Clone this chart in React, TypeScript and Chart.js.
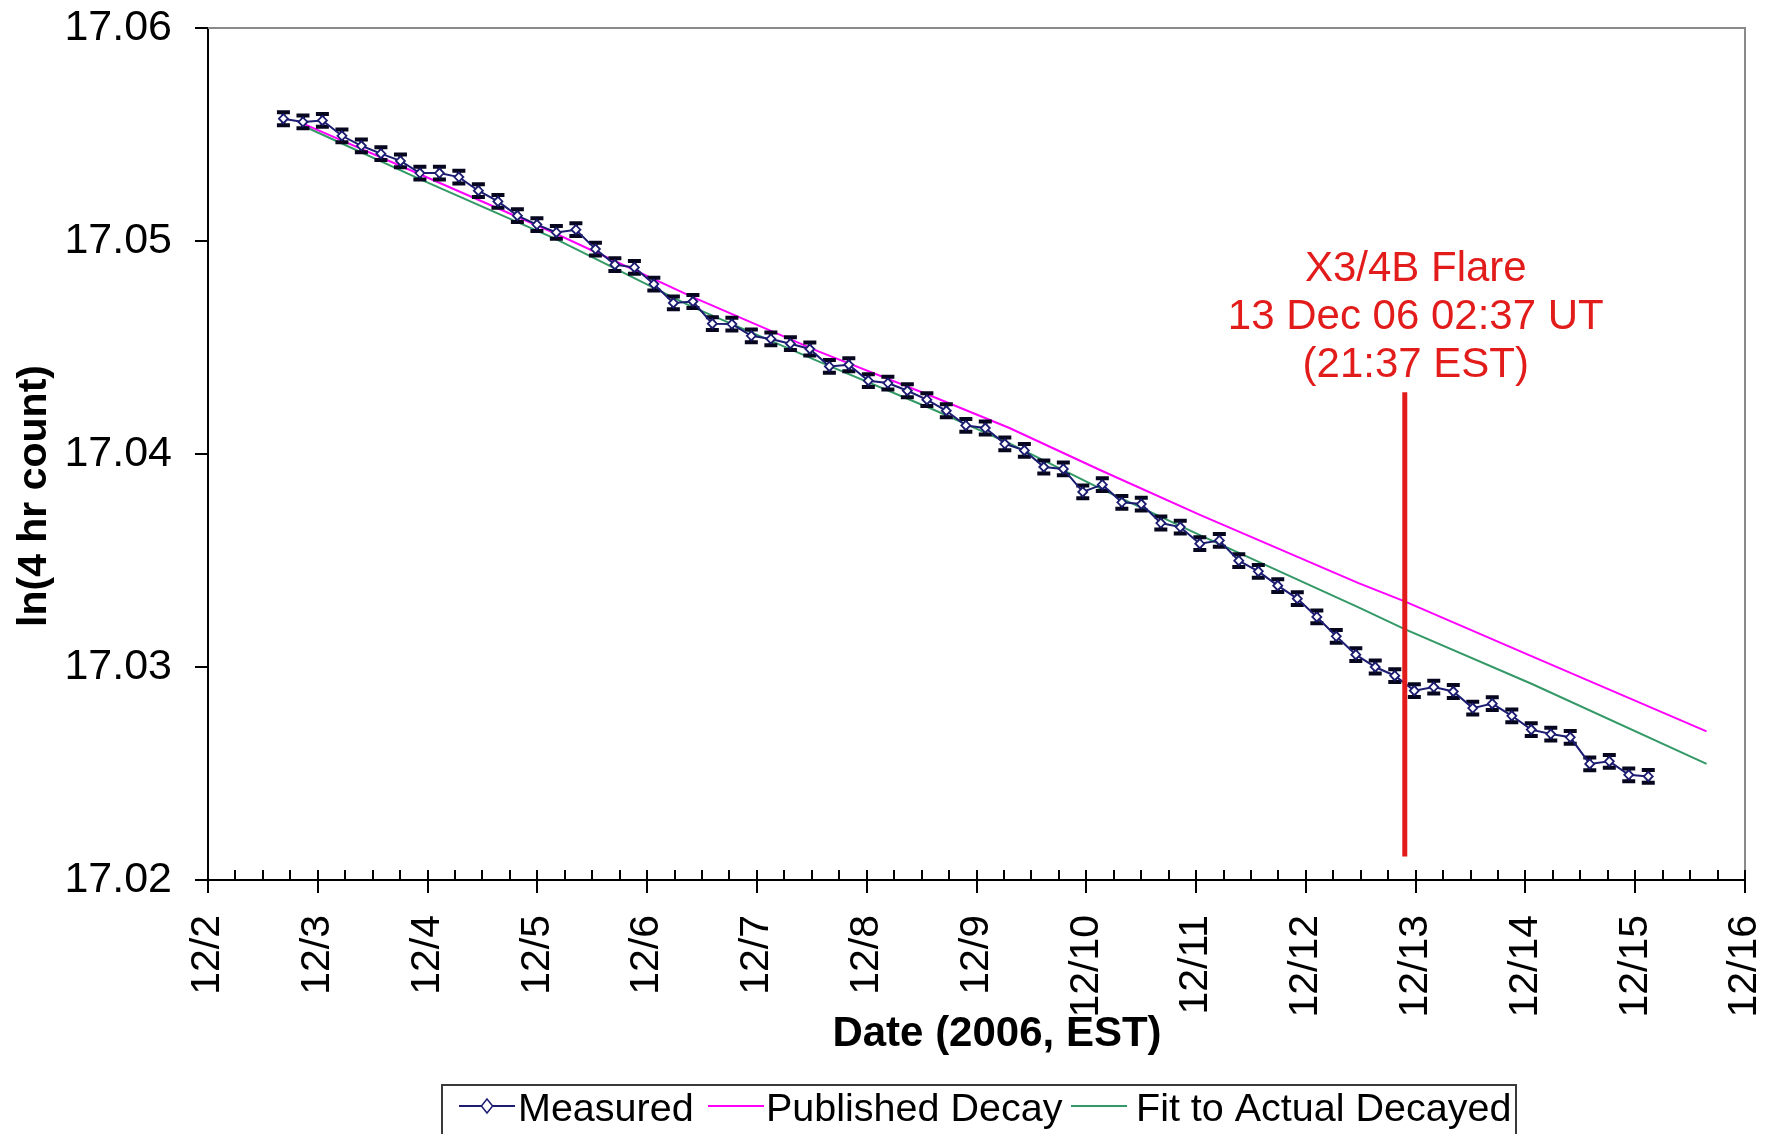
import React, { useEffect, useRef } from 'react';
import { Chart, registerables } from 'chart.js';

Chart.register(...registerables);

const FONT = '"Liberation Sans", Arial, Helvetica, sans-serif';

// x values are day-of-month in December 2006 (EST)
const measuredDays = [
  2.687, 2.865, 3.042, 3.220, 3.397, 3.575, 3.753, 3.930, 4.108, 4.285,
  4.463, 4.641, 4.818, 4.996, 5.173, 5.351, 5.529, 5.706, 5.884, 6.061,
  6.239, 6.417, 6.594, 6.772, 6.949, 7.127, 7.305, 7.482, 7.660, 7.837,
  8.015, 8.193, 8.370, 8.548, 8.725, 8.903, 9.080, 9.258, 9.436, 9.613,
  9.791, 9.968, 10.146, 10.324, 10.501, 10.679, 10.856, 11.034, 11.212, 11.389,
  11.567, 11.744, 11.922, 12.100, 12.277, 12.455, 12.632, 12.810, 12.988, 13.165,
  13.343, 13.520, 13.698, 13.876, 14.053, 14.231, 14.408, 14.586, 14.764, 14.941,
  15.119,
];
const measuredValues = [
  17.05574, 17.05559, 17.05566, 17.05494, 17.05447, 17.05410, 17.05376, 17.05319, 17.05319, 17.05300,
  17.05236, 17.05186, 17.05119, 17.05077, 17.05040, 17.05053, 17.04962, 17.04889, 17.04876, 17.04798,
  17.04709, 17.04716, 17.04612, 17.04610, 17.04555, 17.04540, 17.04518, 17.04493, 17.04411, 17.04419,
  17.04344, 17.04333, 17.04297, 17.04255, 17.04203, 17.04134, 17.04122, 17.04048, 17.04017, 17.03939,
  17.03930, 17.03822, 17.03856, 17.03773, 17.03765, 17.03676, 17.03657, 17.03579, 17.03594, 17.03499,
  17.03449, 17.03382, 17.03321, 17.03235, 17.03144, 17.03058, 17.03000, 17.02959, 17.02889, 17.02906,
  17.02885, 17.02807, 17.02828, 17.02771, 17.02706, 17.02685, 17.02670, 17.02545, 17.02557, 17.02494,
  17.02486,
];
const MEASURED_ERROR = 0.0003;

const publishedDays = [2.87, 3.94, 5.17, 6.40, 7.56, 8.60, 9.30, 10.12, 11.03, 12.48, 12.90, 14.06, 15.65];
const publishedValues = [17.0555, 17.05311, 17.05034, 17.0474, 17.04482, 17.0427, 17.04122, 17.03926, 17.03715, 17.03394, 17.03308, 17.0305, 17.02698];

const fitDays = [2.87, 3.94, 5.17, 6.40, 7.56, 8.60, 9.30, 10.12, 11.03, 12.48, 12.90, 14.06, 15.65];
const fitValues = [17.0554, 17.05288, 17.05009, 17.04693, 17.04435, 17.0421, 17.0405, 17.0384, 17.0362, 17.0328, 17.03178, 17.0292, 17.02545];

// Flare: 12 Dec 21:37 EST
const flareDay = 12.901;
const flareLineTop = 17.0429;
const flareLineBottom = 17.0211;
const flareText = ['X3/4B Flare', '13 Dec 06 02:37 UT', '(21:37 EST)'];

const xTickValues = [2, 3, 4, 5, 6, 7, 8, 9, 10, 11, 12, 13, 14, 15, 16];
const xTickLabels = ['12/2', '12/3', '12/4', '12/5', '12/6', '12/7', '12/8', '12/9', '12/10', '12/11', '12/12', '12/13', '12/14', '12/15', '12/16'];
const X_MINOR_PER_DAY = 4;
const yTickValues = [17.02, 17.03, 17.04, 17.05, 17.06];
const yTickLabels = ['17.02', '17.03', '17.04', '17.05', '17.06'];

const xTitle = 'Date (2006, EST)';
const yTitle = 'ln(4 hr count)';
const seriesNames = ['Measured', 'Published Decay', 'Fit to Actual Decayed'];

const NAVY = '#1c1c72';
const MAGENTA = '#ff00ff';
const GREEN = '#339966';
const RED = '#e21b1b';

export default function App() {
  const ref = useRef<HTMLCanvasElement>(null);

  useEffect(() => {
    const canvas = ref.current;
    if (!canvas) return;
    const measured = measuredDays.map((d, i) => ({ x: d, y: measuredValues[i] }));
    const published = publishedDays.map((d, i) => ({ x: d, y: publishedValues[i] }));
    const fit = fitDays.map((d, i) => ({ x: d, y: fitValues[i] }));
    const flare = [
      { x: flareDay, y: flareLineTop },
      { x: flareDay, y: flareLineBottom },
    ];

    const drawDiamond = (ctx: CanvasRenderingContext2D, x: number, y: number, r: number) => {
      ctx.beginPath();
      ctx.moveTo(x, y - r);
      ctx.lineTo(x + r * 0.8, y);
      ctx.lineTo(x, y + r);
      ctx.lineTo(x - r * 0.8, y);
      ctx.closePath();
      ctx.fillStyle = '#ffffff';
      ctx.fill();
      ctx.strokeStyle = NAVY;
      ctx.lineWidth = 1.5;
      ctx.stroke();
    };

    const zeroPad = (s: any) => {
      s.paddingLeft = 0;
      s.paddingRight = 0;
      s.paddingTop = 0;
      s.paddingBottom = 0;
    };

    const decor = {
      id: 'decor',
      beforeDatasetDraw(chart: any, args: any) {
        if (args.index !== 0) return;
        const { ctx } = chart;
        const xs = chart.scales.x;
        const ys = chart.scales.y;
        ctx.save();
        ctx.strokeStyle = '#06061f';
        ctx.lineWidth = 4;
        ctx.beginPath();
        measured.forEach((p) => {
          const px = xs.getPixelForValue(p.x);
          const top = ys.getPixelForValue(p.y + MEASURED_ERROR);
          const bot = ys.getPixelForValue(p.y - MEASURED_ERROR);
          ctx.moveTo(px, top);
          ctx.lineTo(px, bot);
          ctx.moveTo(px - 6.5, top);
          ctx.lineTo(px + 6.5, top);
          ctx.moveTo(px - 6.5, bot);
          ctx.lineTo(px + 6.5, bot);
        });
        ctx.stroke();
        ctx.restore();
      },
      afterDraw(chart: any) {
        const { ctx, chartArea: a } = chart;
        const xs = chart.scales.x;
        const ys = chart.scales.y;
        ctx.save();
        // plot area border (top, right)
        ctx.strokeStyle = '#8a8a8a';
        ctx.lineWidth = 2;
        ctx.beginPath();
        ctx.moveTo(a.left, a.top);
        ctx.lineTo(a.right, a.top);
        ctx.lineTo(a.right, a.bottom);
        ctx.stroke();

        // tick marks
        ctx.strokeStyle = '#000';
        ctx.lineWidth = 2;
        ctx.beginPath();
        yTickValues.forEach((v) => {
          const py = Math.round(ys.getPixelForValue(v));
          ctx.moveTo(a.left - 13, py);
          ctx.lineTo(a.left, py);
        });
        const qStart = xTickValues[0] * X_MINOR_PER_DAY;
        const qEnd = xTickValues[xTickValues.length - 1] * X_MINOR_PER_DAY;
        for (let q = qStart; q <= qEnd; q++) {
          const px = Math.round(xs.getPixelForValue(q / X_MINOR_PER_DAY));
          const major = q % X_MINOR_PER_DAY === 0;
          ctx.moveTo(px, a.bottom - 10);
          ctx.lineTo(px, a.bottom + (major ? 13 : 0));
        }
        ctx.stroke();

        // axis titles
        ctx.fillStyle = '#000';
        ctx.font = `bold 42px ${FONT}`;
        ctx.textAlign = 'center';
        ctx.textBaseline = 'alphabetic';
        ctx.fillText(xTitle, 997, 1046);
        ctx.font = `bold 41px ${FONT}`;
        ctx.save();
        ctx.translate(46, 496);
        ctx.rotate(-Math.PI / 2);
        ctx.fillText(yTitle, 0, 0);
        ctx.restore();

        // flare annotation text
        ctx.fillStyle = RED;
        ctx.font = `42px ${FONT}`;
        ctx.textAlign = 'center';
        const fx = xs.getPixelForValue(flareDay) + 11;
        flareText.forEach((t, i) => ctx.fillText(t, fx, 281 + i * 48));

        // legend
        ctx.strokeStyle = '#3a3a3a';
        ctx.lineWidth = 2;
        ctx.strokeRect(442, 1085, 1074, 70);
        const lineStarts = [459, 708, 1071];
        const textStarts = [518, 766, 1136];
        const colors = [NAVY, MAGENTA, GREEN];
        const ly = 1106;
        ctx.font = `39.5px ${FONT}`;
        ctx.textAlign = 'left';
        seriesNames.forEach((name, i) => {
          ctx.strokeStyle = colors[i];
          ctx.lineWidth = 2;
          ctx.beginPath();
          ctx.moveTo(lineStarts[i], ly);
          ctx.lineTo(lineStarts[i] + 56, ly);
          ctx.stroke();
          if (i === 0) drawDiamond(ctx, lineStarts[i] + 28, ly, 7);
          ctx.fillStyle = '#000';
          ctx.fillText(name, textStarts[i], 1121);
        });
        ctx.restore();
      },
    };

    const chart = new Chart(canvas, {
      type: 'line',
      data: {
        datasets: [
          {
            label: seriesNames[0],
            data: measured,
            borderColor: NAVY,
            borderWidth: 2,
            pointStyle: 'rectRot',
            pointRadius: 4.5,
            pointBackgroundColor: '#ffffff',
            pointBorderColor: NAVY,
            pointBorderWidth: 1.8,
            order: 1,
          },
          {
            label: seriesNames[1],
            data: published,
            borderColor: MAGENTA,
            borderWidth: 2,
            pointRadius: 0,
            order: 2,
          },
          {
            label: seriesNames[2],
            data: fit,
            borderColor: GREEN,
            borderWidth: 2,
            pointRadius: 0,
            order: 3,
          },
          {
            label: 'Flare',
            data: flare,
            borderColor: RED,
            borderWidth: 5,
            pointRadius: 0,
            order: 0,
          },
        ],
      },
      options: {
        responsive: false,
        animation: false,
        events: [],
        devicePixelRatio: 1,
        layout: { padding: { left: 0, top: 28, right: 32, bottom: 0 } },
        plugins: {
          legend: { display: false },
          tooltip: { enabled: false },
          title: { display: false },
        },
        scales: {
          x: {
            type: 'linear',
            min: 2,
            max: 16,
            afterBuildTicks: (s: any) => {
              s.ticks = xTickValues.map((v) => ({ value: v }));
            },
            afterFit: (s: any) => {
              s.height = 254;
              zeroPad(s);
            },
            grid: { display: false, drawTicks: false },
            border: { display: true, color: '#000', width: 2 },
            ticks: {
              autoSkip: false,
              maxRotation: 90,
              minRotation: 90,
              padding: 35,
              color: '#000',
              font: { family: FONT, size: 41 },
              callback: (_v: any, i: number) => xTickLabels[i],
            },
          },
          y: {
            type: 'linear',
            min: 17.02,
            max: 17.06,
            afterBuildTicks: (s: any) => {
              s.ticks = yTickValues.map((v) => ({ value: v }));
            },
            afterFit: (s: any) => {
              s.width = 208;
              zeroPad(s);
            },
            grid: { display: false, drawTicks: false },
            border: { display: true, color: '#000', width: 2 },
            ticks: {
              padding: 36,
              color: '#000',
              font: { family: FONT, size: 43 },
              callback: (_v: any, i: number) => yTickLabels[i],
            },
          },
        },
      },
      plugins: [decor],
    } as any);

    return () => chart.destroy();
  }, []);

  return (
    <div style={{ position: 'fixed', left: 0, top: 0, width: 1777, height: 1134, background: '#ffffff', overflow: 'hidden' }}>
      <canvas ref={ref} width={1777} height={1134} style={{ display: 'block', width: 1777, height: 1134 }} />
    </div>
  );
}
